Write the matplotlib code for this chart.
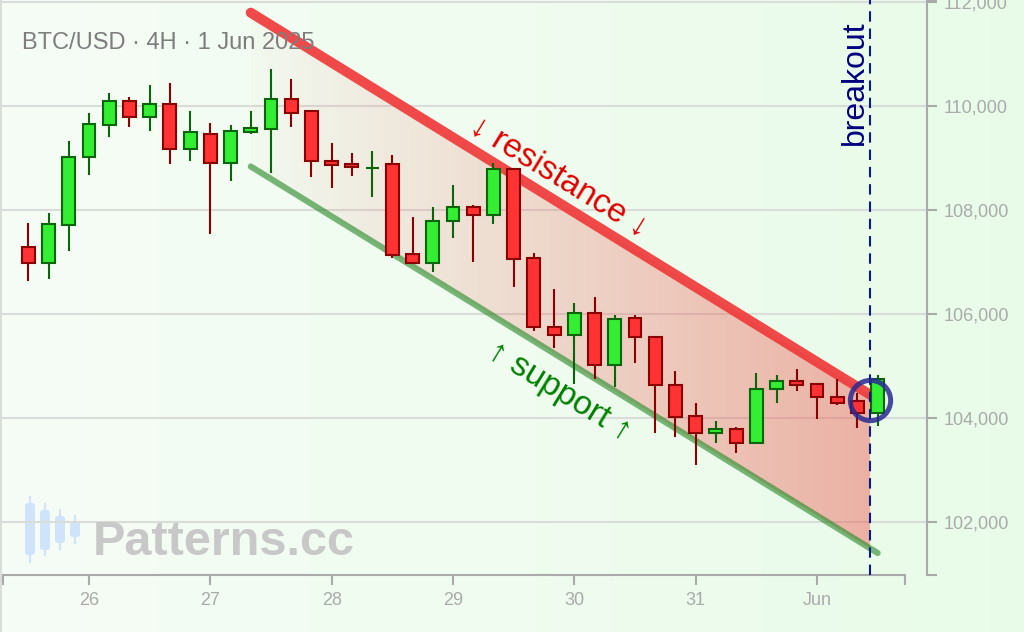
import numpy as np
import pandas as pd
import matplotlib
matplotlib.use('Agg')
import matplotlib.pyplot as plt
import matplotlib.dates as mdates
import matplotlib.transforms as mtransforms
from matplotlib.patches import Polygon, FancyBboxPatch
from matplotlib.ticker import FixedLocator, FuncFormatter

plt.rcParams['font.family'] = ['Liberation Sans', 'DejaVu Sans']

# ---------------- data ----------------
times = pd.date_range('2025-05-25 12:00', periods=43, freq='4h')
opens = [107295, 106975, 107712, 109013, 109629, 110102, 109783, 110033, 109167, 109456,
         108898, 109506, 109552, 110140, 109910, 108948, 108885, 108800, 108879, 107148,
         106975, 107794, 108063, 107904, 108788, 107071, 105756, 105596, 106025, 105019,
         105917, 105564, 104640, 104033, 103706, 103794, 103513, 104558, 104717, 104648,
         104410, 104333, 104090]
highs = [107750, 107937, 109327, 109871, 110256, 110179, 110404, 110437, 109904, 109667,
         109629, 109904, 110711, 110519, 109923, 109283, 109090, 109135, 109058, 107860,
         108052, 108481, 108090, 108898, 108800, 107167, 106475, 106206, 106321, 105981,
         105981, 105570, 104904, 104283, 103937, 103821, 104860, 104827, 104943, 104667,
         104750, 104475, 104827]
lows = [106640, 106679, 107217, 108673, 109410, 109602, 109525, 108879, 108948, 107539,
        108563, 109462, 108717, 109602, 108640, 108417, 108654, 108256, 107071, 106970,
        106802, 107456, 106994, 107725, 106525, 105679, 105341, 104648, 104750, 104602,
        105064, 103717, 103641, 103102, 103525, 103333, 103494, 104294, 104525, 103987,
        104250, 103802, 103846]
closes = [106987, 107725, 109025, 109648, 110102, 109783, 110033, 109167, 109494, 108898,
          109525, 109571, 110140, 109871, 108948, 108871, 108833, 108810, 107129, 106975,
          107794, 108063, 107904, 108794, 107058, 105744, 105596, 106025, 105019, 105910,
          105554, 104629, 104019, 103712, 103794, 103519, 104564, 104717, 104635, 104404,
          104283, 104090, 104750]

# channel lines (start / end)
line_times = [pd.Timestamp('2025-05-27 08:00'), pd.Timestamp('2025-06-01 12:00')]
resistance = [111794, 104358]
support = [108837, 101404]
breakout_time = pd.Timestamp('2025-06-01 10:30')
breakout_price = 104340
label_time = pd.Timestamp('2025-05-29 21:00')

x_range = [pd.Timestamp('2025-05-25 07:00'), pd.Timestamp('2025-06-01 17:24')]
y_range = [100981, 112038]
y_ticks = [102000, 104000, 106000, 108000, 110000, 112000]
title = 'BTC/USD · 4H · 1 Jun 2025'

# ---------------- figure ----------------
W, H = 1024, 632
fig = plt.figure(figsize=(W / 100, H / 100), dpi=100)

# background gradient (pixel-coordinate overlay axes)
ax_bg = fig.add_axes([0, 0, 1, 1])
ax_bg.set_zorder(0)
ax_bg.set_xlim(0, W)
ax_bg.set_ylim(H, 0)
ax_bg.axis('off')
c_left = np.array([0.965, 0.992, 0.965])
c_right = np.array([0.912, 0.985, 0.912])
g = np.linspace(0, 1, 256)[None, :, None]
bg = c_left[None, None, :] * (1 - g) + c_right[None, None, :] * g
ax_bg.imshow(bg, extent=(0, W, H, 0), aspect='auto', interpolation='bilinear', zorder=0)
ax_bg.plot([0.8, 0.8], [0, H], color='#d4d8d4', lw=1.2, zorder=1)

# watermark icon (decorative)
icon = [(30, 497, 562, 503, 555), (45, 504, 555, 510, 550),
        (60, 510, 549, 516, 543), (75, 516, 543, 522, 537)]
for cx, wt, wb, bt, bb in icon:
    ax_bg.plot([cx, cx], [wt, wb], color='#cfe3fa', lw=1.5, zorder=2)
    ax_bg.add_patch(FancyBboxPatch((cx - 4, bt + 1), 8, bb - bt - 2,
                                   boxstyle='round,pad=1,rounding_size=3',
                                   facecolor='#cfe3fa', edgecolor='none', zorder=2))

# main axes
L, R, T, B = 3, 905, 0, 575
ax = fig.add_axes([L / W, 1 - B / H, (R - L) / W, (B - T) / H])
ax.set_zorder(1)
ax.set_facecolor('none')

tnum = mdates.date2num(times)
lt = mdates.date2num(line_times)
tb = mdates.date2num(breakout_time)
ax.set_xlim(mdates.date2num(x_range))
ax.set_ylim(y_range)

# gridlines extending to the offset y axis
trans_blend = mtransforms.blended_transform_factory(ax.transAxes, ax.transData)
ax.hlines(y_ticks, -L / (R - L), (927 - L) / (R - L), transform=trans_blend,
          colors='#d9dcd9', lw=1.5, clip_on=False, zorder=0.5)

# gradient fill between channel lines up to the breakout
r_b = np.interp(tb, lt, resistance)
s_b = np.interp(tb, lt, support)
poly = Polygon([(lt[0], resistance[0]), (tb, r_b), (tb, s_b), (lt[0], support[0])],
               closed=True, facecolor='none', edgecolor='none', transform=ax.transData)
ax.add_patch(poly)
grad = np.zeros((1, 256, 4))
grad[..., 0] = 0.93
grad[..., 1] = 0.36
grad[..., 2] = 0.32
grad[..., 3] = np.linspace(0.02, 0.46, 256)
im = ax.imshow(grad, extent=(lt[0], tb, y_range[0], y_range[1]), aspect='auto',
               interpolation='bilinear', zorder=1)
im.set_clip_path(poly)

# channel lines
ax.plot(lt, resistance, color='#ef3b3b', lw=7.2, alpha=0.92, solid_capstyle='round', zorder=2)
ax.plot(lt, support, color='#2a8a2a', lw=4.4, alpha=0.62, solid_capstyle='round', zorder=2)

# candles
o = np.array(opens); c = np.array(closes)
up = c >= o
edge = np.where(up, '#0b650b', '#8b0000')
fill = np.where(up, '#33ee33', '#ff3333')
ax.vlines(tnum, lows, highs, colors=edge, lw=1.5, zorder=3)
ax.bar(tnum, np.abs(c - o), bottom=np.minimum(o, c), width=0.106, color=fill,
       edgecolor=edge, linewidth=1.5, zorder=4)

# breakout marker
ax.axvline(tb, color='#0a1a8a', lw=1.5, ls=(0, (5, 3.3)), zorder=5)
ax.plot([tb], [breakout_price], marker='o', ms=29, mfc='none', mec='#2a2a92',
        mew=3.6, alpha=0.85, zorder=6)
ax.text(tb, 1 - 20.7 / (B - T), 'breakout',
        transform=mtransforms.blended_transform_factory(ax.transData, ax.transAxes),
        rotation=90, ha='right', va='top', fontsize=23, color='#000080', zorder=6)

# channel labels
fig.canvas.draw()
p0 = ax.transData.transform((lt[0], resistance[0]))
p1 = ax.transData.transform((lt[1], resistance[1]))
ang = np.degrees(np.arctan2(p1[1] - p0[1], p1[0] - p0[0]))
tl = mdates.date2num(label_time)
ax.text(tl, np.interp(tl, lt, resistance) + 490, '↓ resistance ↓', rotation=ang,
        rotation_mode='anchor', ha='center', va='center', fontsize=24,
        color='#e00000', zorder=6)
ax.text(tl, np.interp(tl, lt, support) - 665, '↑ support ↑', rotation=ang,
        rotation_mode='anchor', ha='center', va='center', fontsize=24,
        color='#008000', zorder=6)

# axes styling
for s in ['top', 'left']:
    ax.spines[s].set_visible(False)
ax.spines['bottom'].set_color('#aaaaaa')
ax.spines['bottom'].set_linewidth(1.5)
ax.spines['right'].set_color('#aaaaaa')
ax.spines['right'].set_linewidth(1.5)
ax.spines['right'].set_position(('outward', 22 * 0.72))
ax.yaxis.tick_right()
ax.yaxis.set_major_locator(FixedLocator(y_ticks))
ax.yaxis.set_major_formatter(FuncFormatter(lambda v, p: f'{int(round(v)):,}'))
ax.yaxis.set_minor_locator(FixedLocator(y_range))
ax.xaxis.set_major_locator(mdates.DayLocator())
ax.xaxis.set_minor_locator(FixedLocator(list(mdates.date2num(x_range))))


def xfmt(v, p):
    d = mdates.num2date(v)
    return d.strftime('%b') if d.day == 1 else str(d.day)


ax.xaxis.set_major_formatter(FuncFormatter(xfmt))
ax.tick_params(axis='both', which='both', length=7, width=1.5, color='#aaaaaa',
               labelcolor='#aaaaaa', labelsize=13, pad=5)

# title and watermark
fig.text(22 / W, 1 - 49 / H, title, ha='left', va='baseline', fontsize=17, color='#7d7d7d')
fig.text(93 / W, 1 - 555 / H, 'Patterns.cc', ha='left', va='baseline', fontsize=35,
         fontweight='bold', color='#c8c8c8')

fig.savefig('out.png', dpi=100)
